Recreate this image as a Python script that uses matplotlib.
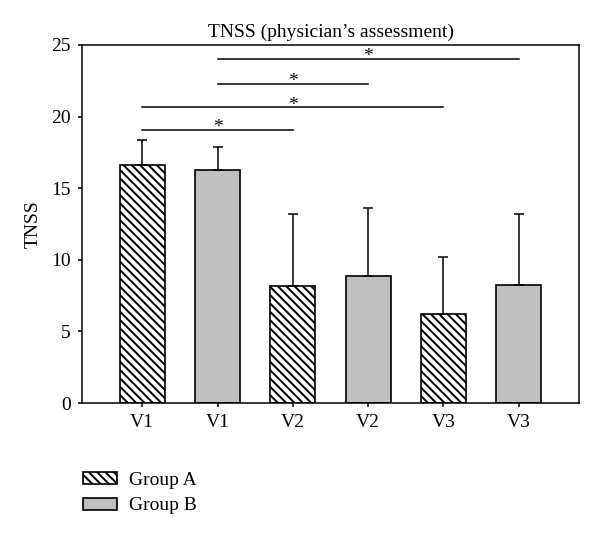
import matplotlib
matplotlib.use('Agg')
import matplotlib.pyplot as plt
import numpy as np

plt.rcParams['font.family'] = ['Liberation Serif', 'DejaVu Serif']
plt.rcParams['hatch.linewidth'] = 1.4

labels = ['V1', 'V1', 'V2', 'V2', 'V3', 'V3']
means = [16.62, 16.27, 8.17, 8.89, 6.19, 8.26]
upper = [18.37, 17.90, 13.18, 13.60, 10.17, 13.18]
groups = ['A', 'B', 'A', 'B', 'A', 'B']
# significance brackets: (from bar, to bar, height)
sig = [(0, 2, 19.07), (0, 4, 20.65), (1, 3, 22.3), (1, 5, 24.03)]

errs = [u - m for u, m in zip(upper, means)]
x = np.arange(len(labels))
hatch_a = '\\' * 4

fig = plt.figure(figsize=(6, 5.36), dpi=100)
ax = fig.add_axes([0.1367, 0.2481, 0.8283, 0.668])

for xi, m, e, g in zip(x, means, errs, groups):
    if g == 'A':
        ax.bar(xi, m, 0.6, color='white', edgecolor='black', hatch=hatch_a, linewidth=1.2)
    else:
        ax.bar(xi, m, 0.6, color='#c0c0c0', edgecolor='black', linewidth=1.2)
    ax.errorbar(xi, m, yerr=[[0], [e]], fmt='none', ecolor='black', elinewidth=1.1, capsize=3.3, capthick=1.1)

for i, j, h in sig:
    ax.plot([x[i], x[j]], [h, h], color='black', lw=1.1)
    ax.annotate('*', ((x[i] + x[j]) / 2, h), xytext=(0, 1.5), textcoords='offset points',
                ha='center', va='center', fontsize=14)

ax.set_xlim(-0.8, 5.8)
ax.set_ylim(0, 25)
ax.set_yticks([0, 5, 10, 15, 20, 25])
ax.set_xticks(x)
ax.set_xticklabels(labels)
ax.tick_params(axis='both', direction='out', length=3, width=1.1, labelsize=14, pad=5)
for s in ax.spines.values():
    s.set_linewidth(1.1)
ax.set_ylabel('TNSS', fontsize=14, labelpad=7)
ax.set_title("TNSS (physician\u2019s assessment)", fontsize=14, pad=6)

ha = plt.Rectangle((0, 0), 1, 1, facecolor='white', edgecolor='black', hatch=hatch_a, linewidth=1.2)
hb = plt.Rectangle((0, 0), 1, 1, facecolor='#c0c0c0', edgecolor='black', linewidth=1.2)
fig.legend([ha, hb], ['Group A', 'Group B'], loc='upper left', bbox_to_anchor=(0.139, 0.12),
           frameon=False, fontsize=14, handlelength=1.75, handleheight=0.57,
           handletextpad=0.6, labelspacing=0.45, borderpad=0, borderaxespad=0)

fig.savefig('out.png', dpi=100)
